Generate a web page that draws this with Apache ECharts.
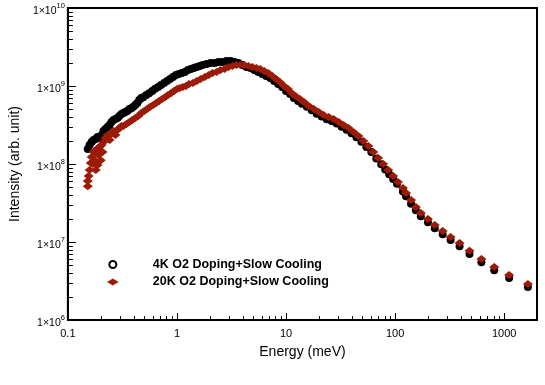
<!DOCTYPE html>
<html>
<head>
<meta charset="utf-8">
<script src="https://cdn.jsdelivr.net/npm/echarts@6/dist/echarts.min.js"></script>
<style>
    html, body { margin: 0; padding: 0; background: #fff; }
    #chart { width: 545px; height: 385px; }
</style>
</head>
<body>
<div id="chart"></div>
<script>
// 4K O2 doping + slow cooling
const energy4K = [0.152, 0.158, 0.165, 0.172, 0.180, 0.187, 0.195, 0.204, 0.212, 0.221,
    0.231, 0.241, 0.251, 0.262, 0.273, 0.285, 0.297, 0.310, 0.323, 0.337,
    0.351, 0.366, 0.382, 0.398, 0.415, 0.433, 0.451, 0.471, 0.491, 0.523,
    0.556, 0.593, 0.631, 0.672, 0.716, 0.762, 0.811, 0.864, 0.920, 0.98,
    1.04, 1.11, 1.18, 1.26, 1.34, 1.43, 1.52, 1.62, 1.72, 1.87,
    2.04, 2.22, 2.41, 2.62, 2.85, 3.10, 3.37, 3.66, 3.98, 4.33,
    4.71, 5.12, 5.56, 6.05, 6.58, 7.16, 7.78, 8.46, 9.2, 10,
    10.9, 11.8, 12.9, 14.0, 15.5, 17.2, 19.1, 21.2, 23.6, 26.2,
    29.1, 32.3, 35.9, 39.8, 44.2, 49.1, 54.5, 60.5, 67.2, 74.6,
    81.1, 88.2, 95.9, 104,
    118, 126, 140, 155, 172, 200, 231, 273, 323, 390, 481, 618, 811, 1110, 1650];
const intensity4K = [1.56e8, 1.75e8, 1.91e8, 2.03e8, 2.09e8, 2.22e8, 2.15e8, 2.35e8, 2.65e8, 2.81e8,
    2.98e8, 3.16e8, 3.45e8, 3.67e8, 3.78e8, 3.9e8, 4.12e8, 4.37e8, 4.5e8, 4.65e8,
    4.78e8, 5.07e8, 5.2e8, 5.4e8, 5.7e8, 6.05e8, 6.6e8, 7.0e8, 7.2e8, 7.67e8,
    8.1e8, 8.6e8, 9.2e8, 9.7e8, 1.03e9, 1.09e9, 1.16e9, 1.23e9, 1.30e9, 1.38e9,
    1.43e9, 1.47e9, 1.51e9, 1.60e9, 1.65e9, 1.70e9, 1.75e9, 1.80e9, 1.86e9, 1.91e9,
    1.97e9, 1.97e9, 2.03e9, 2.03e9, 2.09e9, 2.09e9, 2.03e9, 1.97e9, 1.86e9, 1.75e9,
    1.70e9, 1.60e9, 1.51e9, 1.43e9, 1.34e9, 1.27e9, 1.16e9, 1.06e9, 9.7e8, 8.6e8,
    7.9e8, 7.0e8, 6.4e8, 5.9e8, 5.4e8, 4.9e8, 4.4e8, 4.05e8, 3.75e8, 3.55e8,
    3.3e8, 3.0e8, 2.75e8, 2.48e8, 2.2e8, 1.93e8, 1.65e8, 1.42e8, 1.18e8, 9.9e7,
    8.5e7, 7.4e7, 6.4e7, 5.6e7,
    4.45e7, 3.85e7, 3.1e7, 2.55e7, 2.14e7, 1.79e7, 1.5e7, 1.26e7, 1.06e7, 8.8e6, 7.0e6, 5.5e6, 4.35e6, 3.45e6, 2.65e6];

// 20K O2 doping + slow cooling
const energy20K = [0.152, 0.152, 0.155, 0.158, 0.162, 0.165, 0.169, 0.172, 0.176, 0.180,
    0.184, 0.187, 0.191, 0.195, 0.2, 0.204, 0.208, 0.212, 0.221, 0.231,
    0.241, 0.251, 0.262, 0.273, 0.285, 0.297, 0.310, 0.323, 0.344, 0.366,
    0.390, 0.415, 0.442, 0.471, 0.501, 0.533, 0.568, 0.605, 0.645, 0.686,
    0.731, 0.778, 0.828, 0.882, 0.939, 1.0, 1.06, 1.13, 1.21, 1.29,
    1.40, 1.52, 1.65, 1.80, 1.96, 2.12, 2.31, 2.51, 2.73, 2.97,
    3.23, 3.51, 3.82, 4.15, 4.52, 4.91, 5.34, 5.80, 6.31, 6.86,
    7.46, 8.11, 8.82, 9.59, 10.4, 11.3, 12.3, 13.4, 14.6, 16.2,
    18.0, 19.95, 22.1, 24.6, 27.3, 30.4, 33.7, 37.4, 41.5, 46.1,
    51.2, 56.9, 63.1, 70.0, 77.8, 86.3, 95.9, 106,
    118, 126, 140, 155, 172, 200, 231, 273, 323, 390, 481, 618, 811, 1110, 1650];
const intensity20K = [5.2e7, 6.05e7, 7.0e7, 8.4e7, 1.03e8, 1.23e8, 1.0e8, 1.43e8, 1.12e8, 8.4e7,
    1.56e8, 9.7e7, 1.30e8, 1.65e8, 1.12e8, 1.75e8, 1.43e8, 1.91e8, 2.15e8, 2.35e8,
    2.03e8, 2.43e8, 2.65e8, 2.35e8, 2.73e8, 2.9e8, 3.07e8, 3.07e8, 3.26e8, 3.45e8,
    3.67e8, 3.89e8, 4.12e8, 4.5e8, 4.78e8, 5.07e8, 5.4e8, 5.7e8, 6.05e8, 6.4e8,
    6.8e8, 7.2e8, 7.67e8, 8.1e8, 8.6e8, 9.16e8, 9.4e8, 9.7e8, 1.0e9, 1.06e9,
    1.09e9, 1.16e9, 1.23e9, 1.30e9, 1.38e9, 1.47e9, 1.51e9, 1.60e9, 1.65e9, 1.75e9,
    1.80e9, 1.86e9, 1.86e9, 1.86e9, 1.80e9, 1.75e9, 1.70e9, 1.65e9, 1.56e9, 1.47e9,
    1.34e9, 1.23e9, 1.12e9, 1.0e9, 9.16e8, 8.1e8, 7.4e8, 6.8e8, 6.24e8, 5.55e8,
    5.07e8, 4.65e8, 4.25e8, 4.0e8, 3.78e8, 3.45e8, 3.16e8, 2.9e8, 2.57e8, 2.29e8,
    1.97e8, 1.70e8, 1.43e8, 1.19e8, 1.0e8, 8.4e7, 7.0e7, 5.88e7,
    4.92e7, 4.25e7, 3.45e7, 2.81e7, 2.36e7, 1.97e7, 1.65e7, 1.38e7, 1.16e7, 9.7e6, 7.7e6, 6.06e6, 4.78e6, 3.78e6, 2.9e6];

const seriesNames = ['4K O2 Doping+Slow Cooling', '20K O2 Doping+Slow Cooling'];
const xRange = [0.1, 2000];
const yRange = [1e6, 1e10];

const fontFamily = '"Liberation Sans", Arial, Helvetica, sans-serif';

// minor log ticks 2..9 inside each decade
let xMinor = [];
for (let d = -1; d <= 3; d++) {
    for (let k = 2; k <= 9; k++) {
        let v = k * Math.pow(10, d);
        if (v < xRange[1]) xMinor.push([v, yRange[0]]);
    }
}
let yMinor = [];
for (let d = 6; d <= 9; d++) {
    for (let k = 2; k <= 9; k++) {
        yMinor.push([xRange[0], k * Math.pow(10, d)]);
    }
}

function zip(xs, ys) {
    let out = [];
    for (let i = 0; i < xs.length; i++) {
        out.push([xs[i], ys[i]]);
    }
    return out;
}

function isDecade(v) {
    let e = Math.log10(v);
    return Math.abs(e - Math.round(e)) < 1e-6;
}

let chart = echarts.init(document.getElementById('chart'));
let option = {
    animation: false,
    textStyle: {
        fontFamily: fontFamily
    },
    grid: {
        left: 64,
        right: 8,
        top: 8,
        bottom: 65,
        show: true,
        borderColor: '#000',
        borderWidth: 2
    },
    legend: {
        orient: 'vertical',
        left: 107,
        top: 258,
        padding: 0,
        itemWidth: 70,
        itemHeight: 7,
        itemGap: 4.5,
        textStyle: {
            color: '#000',
            fontWeight: 'bold',
            fontSize: 12.5,
            fontFamily: fontFamily
        },
        data: [
            { name: seriesNames[0], icon: 'emptyCircle', itemStyle: { color: '#000', borderColor: '#000', borderWidth: 2 } },
            { name: seriesNames[1], icon: 'path://M0,3L5,0L10,3L5,6Z' }
        ]
    },
    xAxis: {
        type: 'log',
        logBase: 10,
        min: xRange[0],
        max: xRange[1],
        name: 'Energy (meV)',
        nameLocation: 'middle',
        nameGap: 25,
        nameTextStyle: {
            color: '#000',
            fontSize: 14,
            fontFamily: fontFamily
        },
        axisLine: {
            onZero: false,
            lineStyle: { color: '#000', width: 2 }
        },
        axisTick: {
            inside: true,
            length: 7,
            lineStyle: { color: '#000', width: 1 }
        },
        axisLabel: {
            color: '#000',
            fontSize: 11,
            margin: 8,
            formatter: function (v) {
                return isDecade(v) ? String(+v.toPrecision(3)) : '';
            }
        },
        splitLine: { show: false }
    },
    yAxis: {
        type: 'log',
        logBase: 10,
        min: yRange[0],
        max: yRange[1],
        name: 'Intensity (arb. unit)',
        nameLocation: 'middle',
        nameGap: 43,
        nameTextStyle: {
            color: '#000',
            fontSize: 14,
            fontFamily: fontFamily
        },
        axisLine: {
            onZero: false,
            lineStyle: { color: '#000', width: 2 }
        },
        axisTick: {
            inside: true,
            length: 8,
            lineStyle: { color: '#000', width: 1 }
        },
        axisLabel: {
            color: '#000',
            margin: 3,
            formatter: function (v) {
                let e = Math.round(Math.log10(v));
                return '{m|1\u00d710}{s|' + e + '}';
            },
            rich: {
                m: { fontSize: 10.5, color: '#000', padding: [6, 0, 0, 0] },
                s: { fontSize: 7.5, color: '#000', verticalAlign: 'top', padding: [2, 0, 0, 0] }
            }
        },
        splitLine: { show: false }
    },
    series: [{
        name: 'xMinor',
        type: 'custom',
        silent: true,
        data: xMinor,
        renderItem: function (params, api) {
            let p = api.coord([api.value(0), api.value(1)]);
            let x = Math.round(p[0]) + 0.5;
            return {
                type: 'line',
                shape: { x1: x, y1: p[1], x2: x, y2: p[1] - 4 },
                style: { stroke: '#000', lineWidth: 1 }
            };
        }
    }, {
        name: 'yMinor',
        type: 'custom',
        silent: true,
        data: yMinor,
        renderItem: function (params, api) {
            let p = api.coord([api.value(0), api.value(1)]);
            let y = Math.round(p[1]) + 0.5;
            return {
                type: 'line',
                shape: { x1: p[0], y1: y, x2: p[0] + 5, y2: y },
                style: { stroke: '#000', lineWidth: 1 }
            };
        }
    }, {
        name: seriesNames[0],
        type: 'scatter',
        symbol: 'circle',
        symbolSize: 8,
        itemStyle: {
            color: '#000',
            opacity: 1
        },
        data: zip(energy4K, intensity4K)
    }, {
        name: seriesNames[1],
        type: 'scatter',
        symbol: 'diamond',
        symbolSize: [10, 8],
        itemStyle: {
            color: '#9c1a06',
            opacity: 1
        },
        data: zip(energy20K, intensity20K)
    }]
};
chart.setOption(option);
</script>
</body>
</html>
